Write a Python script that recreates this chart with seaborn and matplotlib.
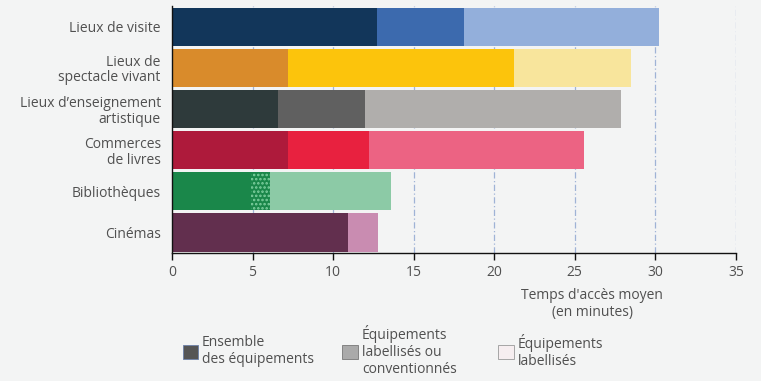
import numpy as np
import pandas as pd
import seaborn as sns
import matplotlib.pyplot as plt
from matplotlib.patches import Patch

categories = ["Lieux de visite", "Lieux de\nspectacle vivant", "Lieux d’enseignement\nartistique",
              "Commerces\nde livres", "Bibliothèques", "Cinémas"]
ensemble = [12.7, 7.2, 6.6, 7.2, 4.9, 10.9]
labellises_conv = [18.1, 21.2, 12.0, 12.2, 6.1, 12.8]
labellises = [30.2, 28.5, 27.9, 25.6, 13.6, np.nan]

dark_colors = ["#12365a", "#d98b2b", "#2e3a3b", "#ae1a3b", "#1a874a", "#622f4e"]
mid_colors = ["#3c6aae", "#fcc40c", "#606060", "#e8213f", "#1a874a", "#c98cb1"]
light_colors = ["#93afdb", "#f8e59c", "#b0aeac", "#ec6383", "#8ccaa6", "#c98cb1"]

legend_labels = ["Ensemble\ndes équipements", "Équipements\nlabellisés ou\nconventionnés", "Équipements\nlabellisés"]

bg = "#f3f4f4"
txt = "#505050"

sns.set_theme(style="white")
plt.rcParams["font.family"] = ["Open Sans", "DejaVu Sans"]
plt.rcParams["hatch.linewidth"] = 1.2

fig = plt.figure(figsize=(7.61, 3.81), dpi=100, facecolor=bg)
ax = fig.add_axes([0.226, 0.336, 0.741, 0.648])
ax.set_facecolor(bg)


def layer(values, colors):
    df = pd.DataFrame({"cat": categories, "val": values}).dropna()
    pal = dict(zip(categories, colors))
    n0 = len(ax.patches)
    sns.barplot(data=df, x="val", y="cat", hue="cat", palette=pal, order=categories,
                hue_order=categories, legend=False, width=0.93, saturation=1,
                dodge=False, ax=ax, linewidth=0, zorder=2)
    return ax.patches[n0:]


layer(labellises, light_colors)
mid = layer(labellises_conv, mid_colors)
layer(ensemble, dark_colors)

# dotted segment for Bibliothèques
for p in mid:
    y = p.get_y() + p.get_height() / 2
    if abs(y - categories.index("Bibliothèques")) < 0.1:
        p.set_hatch("....")
        p.set_edgecolor("#7fd0a0")
        p.set_linewidth(0)

ax.set_xlim(0, 35)
ax.set_ylim(5.5, -0.5)
ax.set_xticks(range(0, 36, 5))
for x in range(5, 36, 5):
    ax.axvline(x, color="#9fb3d6", lw=0.9, ls=(0, (5, 2, 1, 2)), zorder=1)

for s in ["top", "right"]:
    ax.spines[s].set_visible(False)
for s in ["left", "bottom"]:
    ax.spines[s].set_color("#111111")
    ax.spines[s].set_linewidth(1.0)

ax.tick_params(axis="x", colors="#111111", labelcolor=txt, labelsize=10, length=5, width=1, direction="out", bottom=True)
ax.tick_params(axis="y", labelcolor=txt, labelsize=10, length=0, pad=8)
for t in ax.get_yticklabels():
    t.set_multialignment("right")
    t.set_linespacing(1.05)
ax.set_xlabel("")
ax.set_ylabel("")
ax.text(0.745, -0.14, "Temps d'accès moyen\n(en minutes)", transform=ax.transAxes,
        ha="center", va="top", fontsize=10, color=txt, linespacing=1.2)

legend_colors = ["#555555", "#aaaaaa", "#f6eef0"]
legend_edges = ["#6b7fa8", "#777777", "#999999"]
legend_x = [0.240, 0.450, 0.655]
for lab, c, e, lx in zip(legend_labels, legend_colors, legend_edges, legend_x):
    fig.legend(handles=[Patch(facecolor=c, edgecolor=e, lw=0.6)], labels=[lab],
               loc="center left", bbox_to_anchor=(lx, 0.078), frameon=False,
               handlelength=1.1, handleheight=1.1, handletextpad=0.3,
               fontsize=10, labelcolor=txt, borderpad=0, borderaxespad=0,
               labelspacing=0.2)

fig.savefig("out.png", dpi=100, facecolor=bg)
